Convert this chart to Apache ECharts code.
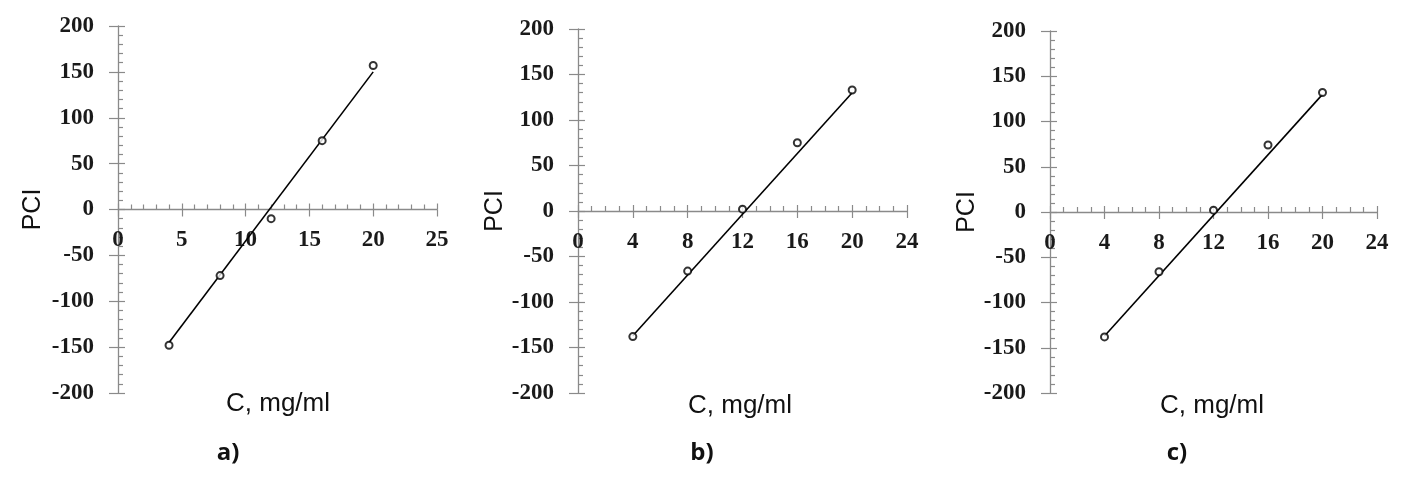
<!DOCTYPE html>
<html><head><meta charset="utf-8">
<script src="https://cdn.jsdelivr.net/npm/echarts@6/dist/echarts.min.js"></script>
<style>html,body{margin:0;padding:0;background:#fff}#c{width:1415px;height:482px}</style>
</head><body><div id="c"></div>
<script>
// ---- data ----
const concA = [4, 8, 12, 16, 20];
const pciA = [-148, -72, -10, 75, 157];
const fitXA = [4, 20];
const fitYA = [-145, 150];

const concB = [4, 8, 12, 16, 20];
const pciB = [-138, -66, 2, 75, 133];
const fitXB = [4, 20];
const fitYB = [-137, 130];

const concC = [4, 8, 12, 16, 20];
const pciC = [-138, -66, 2, 74, 132];
const fitXC = [4, 20];
const fitYC = [-137, 130];

const xMaxes = [25, 24, 24];
const xIntervals = [5, 4, 4];
const xMinorSplits = [5, 4, 4];
const panelLabels = ['a)', 'b)', 'c)'];
const xName = 'C, mg/ml';
const yName = 'PCI';

// ---- layout ----
const grids = [
  {left: 118, top: 26, width: 319, height: 367},
  {left: 578, top: 29, width: 329, height: 364},
  {left: 1050, top: 31, width: 327, height: 362}
];
const yNameGaps = [72, 63, 64];
const xLabelMargins = [-164, -162, -161];
const xNamePos = [[278, 404], [740, 406], [1212, 406]];
const panelPos = [[228, 453], [702, 453], [1177, 453]];

const axisGray = '#8a8a8a';
const serif = '"Liberation Serif", "DejaVu Serif", serif';
const sans = '"Liberation Sans", Arial, sans-serif';

const conc = [concA, concB, concC];
const pci = [pciA, pciB, pciC];
const fitX = [fitXA, fitXB, fitXC];
const fitY = [fitYA, fitYB, fitYC];

const tickLabelStyle = {fontFamily: serif, fontSize: 23, fontWeight: 'bold', color: '#1a1a1a'};

const xAxis = [], yAxis = [], series = [], graphic = [];
for (let i = 0; i < 3; i++) {
  xAxis.push({
    type: 'value', gridIndex: i, min: 0, max: xMaxes[i], interval: xIntervals[i],
    position: 'bottom',
    axisLine: {show: true, onZero: true, lineStyle: {color: axisGray, width: 1.3}},
    axisTick: {show: true, inside: true, length: 6, lineStyle: {color: axisGray, width: 1.2}},
    minorTick: {show: true, splitNumber: xMinorSplits[i], length: 5, lineStyle: {color: axisGray, width: 1.2}},
    axisLabel: Object.assign({show: true, margin: xLabelMargins[i]}, tickLabelStyle),
    splitLine: {show: false}
  });
  xAxis.push({
    type: 'value', gridIndex: i, min: 0, max: xMaxes[i], interval: xIntervals[i],
    position: 'bottom',
    axisLine: {show: false, onZero: true},
    axisTick: {show: true, inside: false, length: 7, lineStyle: {color: axisGray, width: 1.2}},
    axisLabel: {show: false},
    splitLine: {show: false}
  });
  yAxis.push({
    type: 'value', gridIndex: i, min: -200, max: 200, interval: 50,
    position: 'left',
    name: yName, nameLocation: 'middle', nameGap: yNameGaps[i],
    nameTextStyle: {fontFamily: sans, fontSize: 25, color: '#111'},
    axisLine: {show: true, onZero: true, lineStyle: {color: axisGray, width: 1.3}},
    axisTick: {show: true, inside: true, length: 7, lineStyle: {color: axisGray, width: 1.2}},
    minorTick: {show: true, splitNumber: 5, length: 5, lineStyle: {color: axisGray, width: 1.2}},
    axisLabel: Object.assign({show: true, margin: 24}, tickLabelStyle),
    splitLine: {show: false}
  });
  yAxis.push({
    type: 'value', gridIndex: i, min: -200, max: 200, interval: 50,
    position: 'left',
    axisLine: {show: false, onZero: true},
    axisTick: {show: true, inside: false, length: 9, lineStyle: {color: axisGray, width: 1.2}},
    axisLabel: {show: false},
    splitLine: {show: false}
  });
  series.push({
    type: 'line', xAxisIndex: 2 * i, yAxisIndex: 2 * i,
    data: fitX[i].map((x, k) => [x, fitY[i][k]]),
    showSymbol: false, symbol: 'none',
    lineStyle: {color: '#000', width: 1.6},
    silent: true, animation: false, z: 2
  });
  series.push({
    type: 'scatter', xAxisIndex: 2 * i, yAxisIndex: 2 * i,
    data: conc[i].map((x, k) => [x, pci[i][k]]),
    symbol: 'emptyCircle', symbolSize: 7,
    itemStyle: {color: '#000', borderColor: '#000', borderWidth: 1.4},
    animation: false, z: 3
  });
  graphic.push({
    type: 'text', x: xNamePos[i][0], y: xNamePos[i][1],
    style: {text: xName, font: '26px ' + sans, fill: '#111', align: 'center', verticalAlign: 'middle'}
  });
  graphic.push({
    type: 'text', x: panelPos[i][0], y: panelPos[i][1],
    style: {text: panelLabels[i], font: 'bold 24px "Open Sans", "Noto Sans", sans-serif', fill: '#111', align: 'center', verticalAlign: 'middle'}
  });
}

const chart = echarts.init(document.getElementById('c'), null, {renderer: 'canvas'});
chart.setOption({
  animation: false,
  backgroundColor: '#fff',
  grid: grids.map(g => Object.assign({containLabel: false}, g)),
  xAxis, yAxis, series, graphic
});
</script></body></html>
